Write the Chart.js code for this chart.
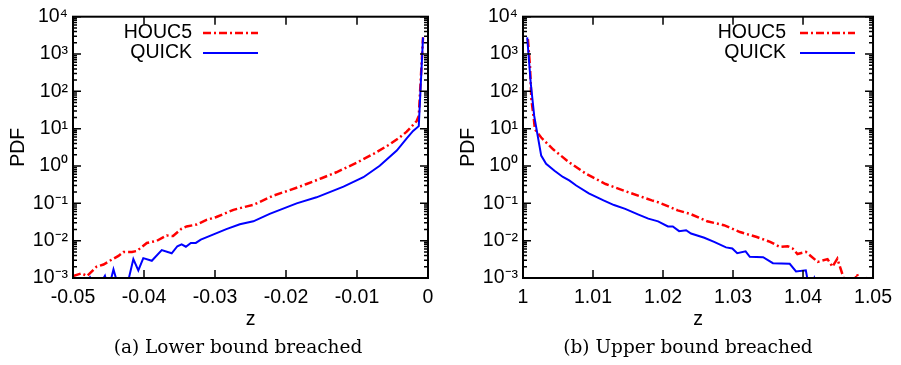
<!DOCTYPE html>
<html>
<head>
<meta charset="utf-8">
<script src="https://cdn.jsdelivr.net/npm/chart.js@4.4.1/dist/chart.umd.min.js"></script>
<style>
  html, body { margin: 0; padding: 0; background: #fff; }
  body { width: 901px; height: 365px; position: relative; overflow: hidden; }
  canvas { position: absolute; top: 0; }
  .cap { position: absolute; top: 337px; width: 300px; text-align: center;
         font: 18.5px "DejaVu Serif", serif; line-height: 20px; color: #000; }
</style>
</head>
<body>
<canvas id="lowerChart" width="450" height="340" style="left:0"></canvas>
<canvas id="upperChart" width="450" height="340" style="left:450px"></canvas>
<div class="cap" style="left:88px">(a) Lower bound breached</div>
<div class="cap" style="left:538px">(b) Upper bound breached</div>

<script>
// ---- data ----

// (a) lower bound breached
const lowerZHouc5 = [-0.0500, -0.0488, -0.0480, -0.0467, -0.0457, -0.0443, -0.0436, -0.0429, -0.0417, -0.0410,
  -0.0396, -0.0382, -0.0368, -0.0359, -0.0347, -0.0340, -0.0326, -0.0312, -0.0298, -0.0274,
  -0.0255, -0.0246, -0.0218, -0.0183, -0.0171, -0.0150, -0.0129, -0.0100, -0.0077, -0.0054,
  -0.0040, -0.0030, -0.0022, -0.0016, -0.0013, -0.0007];
const lowerHouc5 = [1.13e-3, 1.33e-3, 1.13e-3, 2.0e-3, 2.3e-3, 3.3e-3, 3.9e-3, 5.0e-3, 5.0e-3, 5.3e-3,
  8.7e-3, 9.9e-3, 0.0138, 0.0133, 0.021, 0.024, 0.027, 0.036, 0.043, 0.067,
  0.083, 0.091, 0.16, 0.27, 0.33, 0.47, 0.68, 1.24, 2.1, 3.8,
  5.8, 8.3, 12, 16, 22, 2800];

const lowerZQuick = [-0.0490, -0.0476, -0.0466, -0.0455, -0.0450, -0.0443, -0.0435, -0.0424, -0.0415, -0.0408,
  -0.0401, -0.0389, -0.0375, -0.0361, -0.0353, -0.0347, -0.0341, -0.0334, -0.0327, -0.0320,
  -0.0302, -0.0284, -0.0265, -0.0246, -0.0223, -0.0185, -0.0157, -0.0119, -0.0091, -0.0068,
  -0.0044, -0.0030, -0.0021, -0.0013, -0.0007];
const lowerQuick = [5e-4, 1.05e-3, 5e-4, 1.15e-3, 5e-4, 1.7e-3, 5e-4, 6e-4, 3.2e-3, 1.6e-3,
  3.4e-3, 2.9e-3, 5.6e-3, 4.6e-3, 7.1e-3, 8.0e-3, 6.9e-3, 8.7e-3, 8.7e-3, 0.0107,
  0.0147, 0.0204, 0.0275, 0.033, 0.052, 0.10, 0.145, 0.28, 0.50, 1.02,
  2.6, 5.5, 8.7, 11.7, 2800];

// (b) upper bound breached
const upperZHouc5 = [1.0007, 1.0010, 1.0012, 1.0015, 1.0017, 1.0026, 1.0043, 1.0066, 1.0090, 1.0118,
  1.0150, 1.0184, 1.0193, 1.0221, 1.0239, 1.0263, 1.0287, 1.0310, 1.0334, 1.0353,
  1.0367, 1.0378, 1.0385, 1.0392, 1.0404, 1.0411, 1.0421, 1.0435, 1.0442, 1.0449,
  1.0458, 1.0470, 1.0477, 1.0484, 1.0493, 1.0500];
const upperHouc5 = [2500, 470, 60, 22, 9.6, 5.8, 2.8, 1.25, 0.62, 0.33,
  0.20, 0.12, 0.107, 0.065, 0.052, 0.033, 0.026, 0.017, 0.0125, 0.0093,
  0.0068, 0.0071, 0.0062, 0.0044, 0.0050, 0.0039, 0.0027, 0.0032, 0.0020, 0.0033,
  1.0e-3, 5e-4, 1.3e-3, 5e-4, 1.1e-3, 5e-4];

const upperZQuick = [1.0006, 1.0011, 1.0016, 1.0026, 1.0033, 1.0045, 1.0057, 1.0066, 1.0076, 1.0094,
  1.0115, 1.0130, 1.0146, 1.0165, 1.0179, 1.0193, 1.0207, 1.0214, 1.0223, 1.0233,
  1.0240, 1.0259, 1.0273, 1.0290, 1.0299, 1.0306, 1.0318, 1.0324, 1.0343, 1.0357,
  1.0381, 1.0390, 1.0404, 1.0409, 1.0416, 1.0420];
const upperQuick = [2800, 170, 22, 1.9, 1.15, 0.75, 0.51, 0.41, 0.30, 0.185,
  0.12, 0.09, 0.071, 0.05, 0.039, 0.033, 0.024, 0.024, 0.018, 0.019,
  0.0155, 0.012, 0.0093, 0.0066, 0.0062, 0.0046, 0.0052, 0.0037, 0.0036, 0.0025,
  0.0024, 0.0015, 0.0016, 5e-4, 1.0e-3, 5e-4];

// axis ticks
const lowerXTicks = [-0.05, -0.04, -0.03, -0.02, -0.01, 0];
const lowerXLabels = ['-0.05', '-0.04', '-0.03', '-0.02', '-0.01', '0'];
const upperXTicks = [1, 1.01, 1.02, 1.03, 1.04, 1.05];
const upperXLabels = ['1', '1.01', '1.02', '1.03', '1.04', '1.05'];
const yTicks = [1e-3, 1e-2, 1e-1, 1e0, 1e1, 1e2, 1e3, 1e4];
const yLabels = ['10⁻³', '10⁻²', '10⁻¹', '10⁰', '10¹', '10²', '10³', '10⁴'];

const FONT = '"Liberation Sans", Arial, Helvetica, sans-serif';

// inward tick marks (gnuplot style) and the frame
const frameTicks = {
  id: 'frameTicks',
  afterDatasetsDraw(chart) {
    const { ctx, chartArea: a, scales: { x, y } } = chart;
    ctx.save();
    ctx.strokeStyle = '#000';
    ctx.lineWidth = 1.5;
    ctx.beginPath();
    x.ticks.forEach(t => {
      const px = x.getPixelForValue(t.value);
      ctx.moveTo(px, a.bottom); ctx.lineTo(px, a.bottom - 8);
      ctx.moveTo(px, a.top); ctx.lineTo(px, a.top + 8);
    });
    yTicks.forEach((v, i) => {
      const py = y.getPixelForValue(v);
      ctx.moveTo(a.left, py); ctx.lineTo(a.left + 8, py);
      ctx.moveTo(a.right, py); ctx.lineTo(a.right - 8, py);
      if (i === yTicks.length - 1) return;
      for (let m = 2; m <= 9; m++) {
        const pm = y.getPixelForValue(v * m);
        ctx.moveTo(a.left, pm); ctx.lineTo(a.left + 4, pm);
        ctx.moveTo(a.right, pm); ctx.lineTo(a.right - 4, pm);
      }
    });
    ctx.stroke();
    ctx.lineWidth = 2;
    ctx.strokeRect(a.left, a.top, a.right - a.left, a.bottom - a.top);
    ctx.restore();
  }
};

// key: label text first, then a sample of the line
const sideKey = {
  id: 'sideKey',
  afterDraw(chart, args, opts) {
    const { ctx } = chart;
    ctx.save();
    chart.data.datasets.forEach((ds, i) => {
      const yy = opts.top + i * opts.rowGap;
      ctx.font = '19.5px ' + FONT;
      ctx.fillStyle = '#000';
      ctx.textAlign = 'right';
      ctx.textBaseline = 'middle';
      ctx.fillText(ds.label, opts.textRight, yy);
      ctx.strokeStyle = ds.borderColor;
      ctx.lineWidth = ds.borderWidth;
      ctx.setLineDash(ds.borderDash || []);
      ctx.beginPath();
      ctx.moveTo(opts.lineStart, yy);
      ctx.lineTo(opts.lineStart + opts.lineLen, yy);
      ctx.stroke();
    });
    ctx.restore();
  }
};

function pairs(xs, ys) {
  return xs.map((x, i) => ({ x: x, y: ys[i] }));
}

function makeChart(id, o) {
  const canvas = document.getElementById(id);
  if (!canvas) return;
  new Chart(canvas.getContext('2d'), {
    type: 'line',
    data: {
      datasets: [{
        label: 'HOUC5',
        data: pairs(o.zH, o.h),
        borderColor: '#ff0000',
        borderWidth: 2.5,
        borderDash: [8, 3, 2, 3],
        pointRadius: 0,
        tension: 0,
        order: 1
      }, {
        label: 'QUICK',
        data: pairs(o.zQ, o.q),
        borderColor: '#0000ff',
        borderWidth: 2,
        pointRadius: 0,
        tension: 0,
        order: 0
      }]
    },
    options: {
      responsive: false,
      animation: false,
      layout: { padding: { top: 15, right: 22, left: 0, bottom: 0 } },
      plugins: {
        legend: { display: false },
        tooltip: { enabled: false },
        sideKey: o.key
      },
      scales: {
        x: {
          type: 'linear',
          min: o.xTicks[0],
          max: o.xTicks[o.xTicks.length - 1],
          afterBuildTicks: s => { s.ticks = o.xTicks.map(v => ({ value: v })); },
          afterFit: s => { s.height = 62; },
          grid: { display: false, drawTicks: false },
          border: { display: false },
          ticks: {
            padding: 8,
            color: '#000',
            maxRotation: 0,
            autoSkip: false,
            font: { family: FONT, size: 19.5 },
            callback: (v, i) => o.xLabels[i]
          },
          title: {
            display: true,
            text: 'z',
            color: '#000',
            font: { family: FONT, size: 19.5, lineHeight: 1.2 },
            padding: { top: 0, bottom: 9 }
          }
        },
        y: {
          type: 'logarithmic',
          min: 1e-3,
          max: 1e4,
          afterBuildTicks: s => { s.ticks = yTicks.map(v => ({ value: v })); },
          afterFit: s => { s.width = 73; },
          grid: { display: false, drawTicks: false },
          border: { display: false },
          ticks: {
            padding: 5,
            color: '#000',
            autoSkip: false,
            font: { family: FONT, size: 19.5 },
            callback: (v, i) => yLabels[i]
          },
          title: {
            display: true,
            text: 'PDF',
            color: '#000',
            font: { family: FONT, size: 19.5, lineHeight: 1.2 },
            padding: { top: 7, bottom: 0 }
          }
        }
      }
    },
    plugins: [frameTicks, sideKey]
  });
}

makeChart('lowerChart', {
  zH: lowerZHouc5, h: lowerHouc5, zQ: lowerZQuick, q: lowerQuick,
  xTicks: lowerXTicks, xLabels: lowerXLabels,
  key: { top: 33, rowGap: 20, textRight: 192, lineStart: 203, lineLen: 55 }
});

makeChart('upperChart', {
  zH: upperZHouc5, h: upperHouc5, zQ: upperZQuick, q: upperQuick,
  xTicks: upperXTicks, xLabels: upperXLabels,
  key: { top: 33, rowGap: 20, textRight: 336, lineStart: 350, lineLen: 55 }
});
</script>
</body>
</html>
